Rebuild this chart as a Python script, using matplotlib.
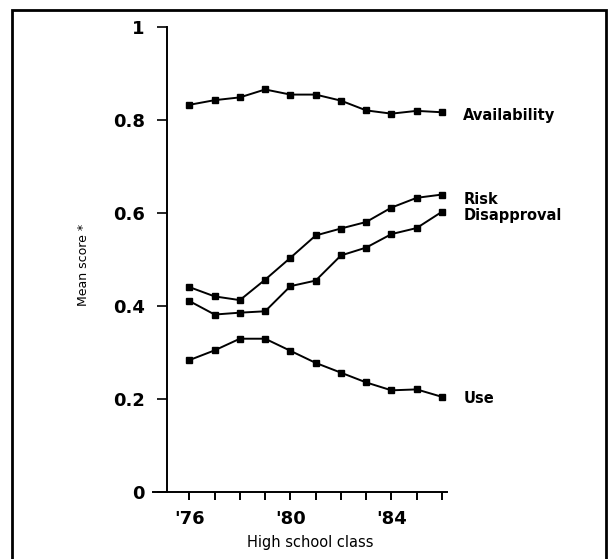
import numpy as np
import matplotlib.pyplot as plt
from matplotlib.patches import Rectangle

years = [76, 77, 78, 79, 80, 81, 82, 83, 84, 85, 86]
availability = [0.832, 0.842, 0.848, 0.865, 0.854, 0.854, 0.841, 0.820, 0.813, 0.819, 0.816]
risk = [0.440, 0.420, 0.412, 0.456, 0.503, 0.551, 0.566, 0.580, 0.611, 0.632, 0.639]
disapproval = [0.410, 0.381, 0.385, 0.388, 0.442, 0.454, 0.508, 0.525, 0.554, 0.567, 0.602]
use = [0.283, 0.304, 0.329, 0.329, 0.303, 0.277, 0.256, 0.235, 0.218, 0.220, 0.204]

series = [("Availability", availability, 0.810),
          ("Risk", risk, 0.629),
          ("Disapproval", disapproval, 0.593),
          ("Use", use, 0.201)]

xtick_labels = {76: "'76", 80: "'80", 84: "'84"}
yticks = [0, 0.2, 0.4, 0.6, 0.8, 1]
ytick_labels = ["0", "0.2", "0.4", "0.6", "0.8", "1"]

fig = plt.figure(figsize=(6.13, 5.59), dpi=100)
ax = fig.add_axes([153 / 613, 1 - 491.7 / 559, (447 - 153) / 613, 465 / 559])

for name, vals, label_y in series:
    ax.plot(years, vals, color='black', lw=1.4, marker='s', ms=4)
    ax.text(86.84, label_y, name, fontsize=10.5, fontweight='bold', va='center', ha='left')

ax.set_xlim(74.56, 86.2)
ax.set_ylim(0, 1)
ax.spines['top'].set_visible(False)
ax.spines['right'].set_visible(False)
ax.spines['left'].set_position(('data', 75.12))
ax.spines['left'].set_bounds(0, 1)
for s in ['left', 'bottom']:
    ax.spines[s].set_linewidth(1.4)

ax.set_xticks(years)
ax.set_xticklabels([xtick_labels.get(y, "") for y in years])
ax.set_yticks(yticks)
ax.set_yticklabels(ytick_labels)
ax.tick_params(axis='x', direction='out', length=6, width=1.4, pad=7, labelsize=13)
ax.tick_params(axis='y', direction='out', length=7, width=1.2, pad=9, labelsize=13)
for lab in ax.get_xticklabels() + ax.get_yticklabels():
    lab.set_fontweight('bold')

ax.set_xlabel("High school class", fontsize=10.5)
ax.set_ylabel("Mean score *", fontsize=9)
ax.yaxis.set_label_coords(-0.214, 0.4875)
ax.xaxis.set_label_coords((310 - 153) / 294, -0.093)

# scanned page frame
fig.add_artist(Rectangle((12 / 613, -0.01), (606 - 12) / 613, 1.01 - 10 / 559,
                         transform=fig.transFigure, fill=False, lw=2, color='black'))

fig.savefig("out.png", dpi=100)
